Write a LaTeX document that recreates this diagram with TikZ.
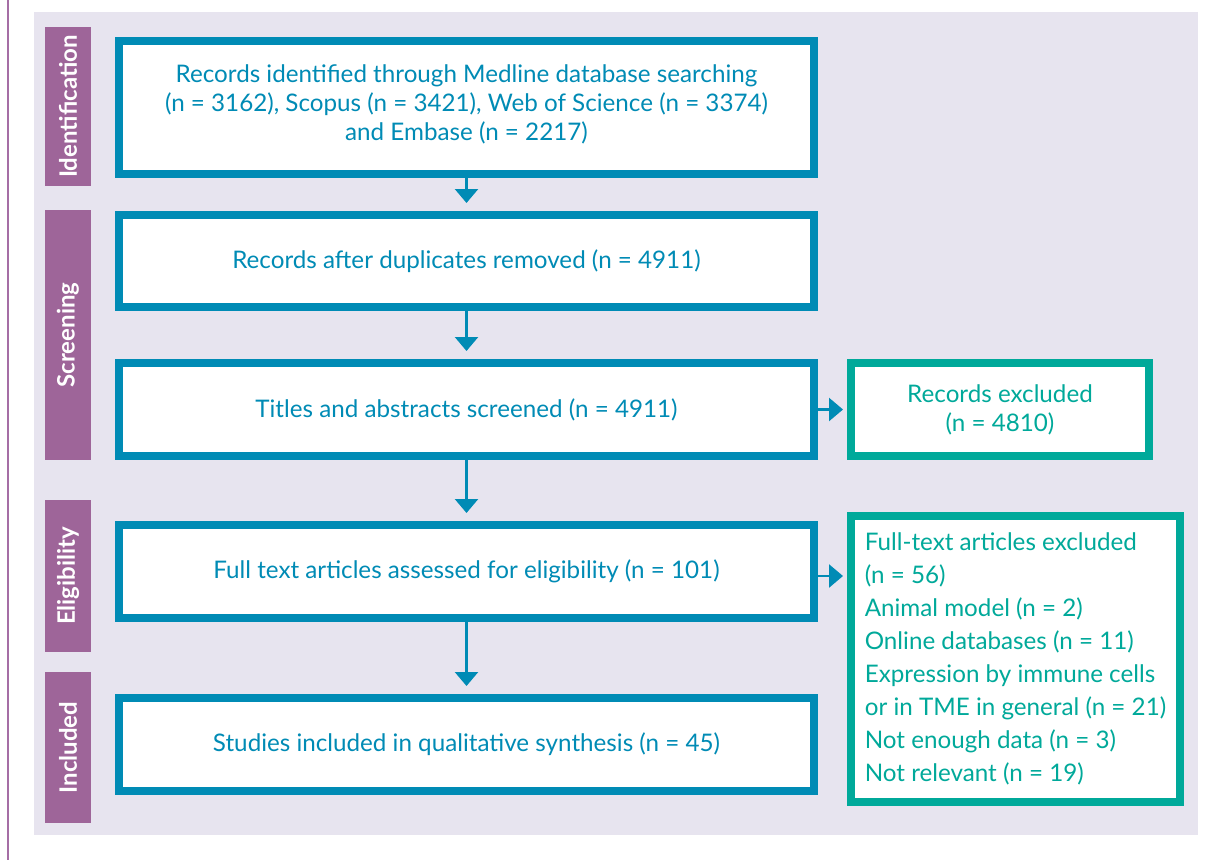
\documentclass[tikz,border=0pt]{standalone}
\usepackage{fontspec}
\setmainfont{Lato}
\usetikzlibrary{arrows.meta,calc}
\definecolor{flowblue}{RGB}{0,139,181}
\definecolor{flowteal}{RGB}{0,169,154}
\definecolor{stagepurple}{RGB}{158,101,153}
\definecolor{linepurple}{RGB}{165,110,165}
\definecolor{panelgrey}{RGB}{231,228,239}
\tikzset{
	stepbox/.style={draw=flowblue, line width=8pt, fill=white, text=flowblue, minimum width=695pt, minimum height=93pt, inner sep=0pt, align=center, font=\fontsize{24.2}{29}\selectfont},
	exclbox/.style={draw=flowteal, line width=8pt, fill=white, text=flowteal, minimum height=93pt, inner sep=0pt, font=\fontsize{24.2}{29}\selectfont},
	stage/.style={fill=stagepurple, text=white, rotate=90, minimum height=46pt, inner sep=0pt, font=\bfseries\fontsize{24}{28}\selectfont},
	flow/.style={draw=flowblue, line width=2.5pt, -{Triangle[width=23pt,length=14pt]}}
}

\begin{document}
\begin{tikzpicture}[x=1pt, y=-1pt]
			%%%%% START %%%%%
			
			\useasboundingbox (0, 0) rectangle (1212, 860);
			\fill[panelgrey] (34, 12) rectangle (1198, 835);
			\draw[line width=2pt, color=linepurple] (8, 0) -- (8, 860);
			
			\node[stage, minimum width=159pt] (ident) at (68, 106.5) {Identification};
			\node[stage, minimum width=250pt] (screen) at (68, 335) {Screening};
			\node[stage, minimum width=152pt] (elig) at (68, 576) {Eligibility};
			\node[stage, minimum width=151pt] (incl) at (68, 747.5) {Included};
			
			\node[stepbox, minimum height=133pt] (found) at (466.5, 107.5) {Records identified through Medline database searching\\(n = 3162), Scopus (n = 3421), Web of Science (n = 3374)\\and Embase (n = 2217)\rule[-10pt]{0pt}{10pt}};
			\node[stepbox, minimum height=92pt] (dedup) at (466.5, 261) {Records after duplicates removed (n = 4911)};
			\node[stepbox] (titles) at (466.5, 409.5) {Titles and abstracts screened (n = 4911)};
			\node[stepbox] (fulltext) at (466.5, 571.5) {Full text articles assessed for eligibility (n = 101)};
			\node[stepbox] (studies) at (466.5, 744.5) {Studies included in qualitative synthesis (n = 45)};
			
			\node[exclbox, minimum width=298pt, align=center] (recex) at (1000, 409.5) {Records excluded\\(n = 4810)};
			\node[exclbox, minimum width=329pt, minimum height=286pt, align=left, font=\fontsize{24.2}{33}\selectfont] (fullex) at (1015.5, 659) {Full-text articles excluded\\(n = 56)\\Animal model (n = 2)\\Online databases (n = 11)\\Expression by immune cells\\or in TME in general (n = 21)\\Not enough data (n = 3)\\Not relevant (n = 19)};
			
			\draw[flow, shorten >=8pt] (found.south) -- (dedup.north);
			\draw[flow, shorten >=8pt] (dedup.south) -- (titles.north);
			\draw[flow, shorten >=8pt] (titles.south) -- (fulltext.north);
			\draw[flow, shorten >=8pt] (fulltext.south) -- (studies.north);
			
			\draw[flow, shorten >=4pt] (titles.east) -- (recex.west);
			\draw[flow, shorten >=4pt] ($(fulltext.east)+(0, 4.5)$) -- ($(fulltext.east -| fullex.west)+(0, 4.5)$);
			
			%%%%% END %%%%%
		\end{tikzpicture}
\end{document}
